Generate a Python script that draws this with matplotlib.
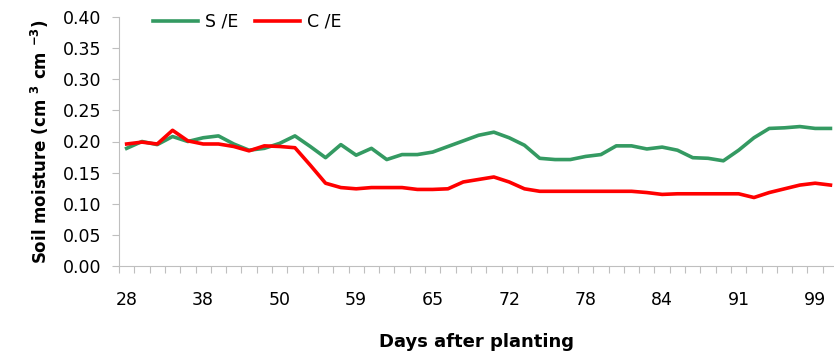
import numpy as np
import matplotlib
matplotlib.use('Agg')
import matplotlib.pyplot as plt
from matplotlib.ticker import MultipleLocator, FixedLocator

plt.rcParams['font.family'] = ['DejaVu Sans']
plt.rcParams['mathtext.fontset'] = 'dejavusans'

# category labels (every 5th sampling day is labelled)
day_labels = ['28', '38', '50', '59', '65', '72', '78', '84', '91', '99']

# soil moisture (cm3 cm-3), one value per sampling day
s_e = [0.189, 0.200, 0.195, 0.208, 0.200, 0.206, 0.209, 0.196, 0.186, 0.189, 0.197, 0.209,
       0.192, 0.174, 0.195, 0.178, 0.189, 0.171, 0.179, 0.179, 0.183, 0.192, 0.201, 0.210,
       0.215, 0.206, 0.194, 0.173, 0.171, 0.171, 0.176, 0.179, 0.193, 0.193, 0.188, 0.191,
       0.186, 0.174, 0.173, 0.169, 0.186, 0.206, 0.221, 0.222, 0.224, 0.221, 0.221]
c_e = [0.196, 0.199, 0.196, 0.218, 0.201, 0.196, 0.196, 0.192, 0.185, 0.193, 0.192, 0.190,
       0.162, 0.133, 0.126, 0.124, 0.126, 0.126, 0.126, 0.123, 0.123, 0.124, 0.135, 0.139,
       0.143, 0.135, 0.124, 0.120, 0.120, 0.120, 0.120, 0.120, 0.120, 0.120, 0.118, 0.115,
       0.116, 0.116, 0.116, 0.116, 0.116, 0.110, 0.118, 0.124, 0.130, 0.133, 0.130]

x = np.arange(len(s_e))

fig = plt.figure(figsize=(8.34, 3.56), dpi=100)
ax = fig.add_axes([119 / 834, 90 / 356, 715 / 834, 249 / 356])

ax.plot(x, s_e, color='#349a62', lw=2.6, label='S /E', solid_joinstyle='round')
ax.plot(x, c_e, color='#ff0000', lw=2.6, label='C /E', solid_joinstyle='round')

ax.set_xlim(-0.5, 715 / 15.3 - 0.5)
ax.set_ylim(0, 0.40)

# x axis: labels centred on categories, tick marks between categories
ax.xaxis.set_major_locator(FixedLocator(np.arange(0, 50, 5)))
ax.set_xticklabels(day_labels)
ax.xaxis.set_minor_locator(FixedLocator(np.arange(-0.5, 48, 1)))
ax.tick_params(axis='x', which='major', length=0, pad=18, labelsize=12.5)
ax.tick_params(axis='x', which='minor', length=5, color='#bfbfbf', width=0.8)

ax.yaxis.set_major_locator(MultipleLocator(0.05))
ax.yaxis.set_major_formatter(plt.FormatStrFormatter('%.2f'))
ax.tick_params(axis='y', length=5, color='#bfbfbf', width=0.8, pad=8, labelsize=12.5)

for s in ['top', 'right']:
    ax.spines[s].set_visible(False)
for s in ['left', 'bottom']:
    ax.spines[s].set_color('#bfbfbf')
    ax.spines[s].set_linewidth(0.8)

ax.set_xlabel('Days after planting', fontsize=13, fontweight='bold', labelpad=17)
ax.set_ylabel(r'Soil moisture (cm $^{\mathbf{3}}$ cm $^{\mathbf{-3}}$)', fontsize=12,
              fontweight='bold', labelpad=8)

ax.legend(loc='upper left', bbox_to_anchor=(0.025, 1.08), ncol=2, frameon=False,
          fontsize=12.5, handlelength=2.6, columnspacing=1.0, handletextpad=0.4)

fig.savefig('out.png', dpi=100)
